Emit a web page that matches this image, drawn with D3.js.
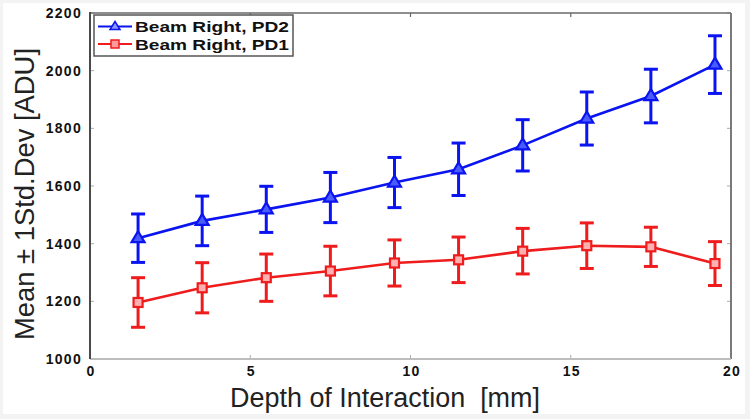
<!DOCTYPE html>
<html><head><meta charset="utf-8">
<script src="https://cdn.jsdelivr.net/npm/d3@7"></script>
<style>
html,body{margin:0;padding:0;background:#f3f3f3;}
svg{display:block;}
</style></head>
<body>
<script>
const depth = [1.5, 3.5, 5.5, 7.5, 9.5, 11.5, 13.5, 15.5, 17.5, 19.5];
const pd2Mean = [1419, 1479, 1519, 1560, 1612, 1658, 1741, 1834, 1912, 2021];
const pd2Std  = [84, 86, 80, 87, 87, 91, 89, 92, 93, 100];
const pd1Mean = [1196, 1247, 1282, 1305, 1333, 1344, 1374, 1393, 1389, 1331];
const pd1Std  = [86, 87, 82, 86, 80, 79, 79, 79, 68, 76];
const xTicks = [0, 5, 10, 15, 20];
const yTicks = [1000, 1200, 1400, 1600, 1800, 2000, 2200];
const seriesNames = ["Beam Right, PD2", "Beam Right, PD1"];
const seriesColors = ["#0a14f0", "#ee1c1c"];

const W = 750, H = 419;
const L = 90, R = 731, T = 13, B = 359;
const svg = d3.select("body").append("svg").attr("width", W).attr("height", H);
svg.append("rect").attr("x", 3).attr("y", 3).attr("width", 742).attr("height", 411).attr("fill", "#ffffff");

const x = d3.scaleLinear().domain([0, 20]).range([L, R]);
const y = d3.scaleLinear().domain([1000, 2200]).range([B, T]);

// inner ticks
const tickCol = "#aaaaaa";
const g = svg.append("g");
yTicks.forEach(v => {
  g.append("line").attr("x1", L).attr("x2", L + 4).attr("y1", y(v)).attr("y2", y(v)).attr("stroke", tickCol).attr("stroke-width", 1);
  g.append("line").attr("x1", R - 4).attr("x2", R).attr("y1", y(v)).attr("y2", y(v)).attr("stroke", tickCol).attr("stroke-width", 1);
});
xTicks.forEach(v => {
  g.append("line").attr("x1", x(v)).attr("x2", x(v)).attr("y1", B).attr("y2", B - 4).attr("stroke", tickCol).attr("stroke-width", 1);
  g.append("line").attr("x1", x(v)).attr("x2", x(v)).attr("y1", T).attr("y2", T + 4).attr("stroke", "#666").attr("stroke-width", 1.2);
});

// frame
svg.append("line").attr("x1", L).attr("x2", R).attr("y1", T).attr("y2", T).attr("stroke", "#6a6a6a").attr("stroke-width", 1.6);
svg.append("line").attr("x1", R).attr("x2", R).attr("y1", T).attr("y2", B).attr("stroke", "#7a7a7a").attr("stroke-width", 2);
svg.append("line").attr("x1", L).attr("x2", R).attr("y1", B).attr("y2", B).attr("stroke", "#bdbdbd").attr("stroke-width", 2);
svg.append("line").attr("x1", L).attr("x2", L).attr("y1", T - 1).attr("y2", B).attr("stroke", "#4a4a4a").attr("stroke-width", 2);

// tick labels
const tickFont = "'Liberation Sans', Arial, sans-serif";
yTicks.forEach(v => {
  svg.append("text").attr("x", L - 8).attr("y", y(v) + 5).attr("text-anchor", "end")
    .attr("font-family", tickFont).attr("font-weight", "bold").attr("font-size", 14)
    .attr("letter-spacing", 1.3).attr("fill", "#111").text(v);
});
xTicks.forEach(v => {
  svg.append("text").attr("x", x(v) + 1).attr("y", B + 17).attr("text-anchor", "middle")
    .attr("font-family", tickFont).attr("font-weight", "bold").attr("font-size", 14)
    .attr("letter-spacing", 1.3).attr("fill", "#111").text(v);
});

// axis titles
svg.append("text").attr("x", 230).attr("y", 407)
  .attr("font-family", tickFont).attr("font-size", 27).attr("fill", "#222")
  .attr("textLength", 310).attr("lengthAdjust", "spacingAndGlyphs")
  .attr("xml:space", "preserve").style("white-space", "pre").text("Depth of Interaction  [mm]");
svg.append("text").attr("transform", "translate(34,340) rotate(-90)")
  .attr("font-family", tickFont).attr("font-size", 28).attr("fill", "#222")
  .attr("textLength", 292).attr("lengthAdjust", "spacingAndGlyphs")
  .text("Mean \u00b1 1Std.Dev [ADU]");

// series
const series = [
  { mean: pd2Mean, std: pd2Std, color: seriesColors[0], marker: "tri" },
  { mean: pd1Mean, std: pd1Std, color: seriesColors[1], marker: "sq" }
];
const line = d3.line().x(d => x(d[0])).y(d => y(d[1]));
const cap = 7;
series.forEach(s => {
  const pts = depth.map((d, i) => [d, s.mean[i], s.std[i]]);
  const sg = svg.append("g");
  sg.append("path").datum(pts).attr("d", line).attr("fill", "none").attr("stroke", s.color).attr("stroke-width", 2.6);
  pts.forEach(p => {
    const cx = x(p[0]), yt = y(p[1] + p[2]), yb = y(p[1] - p[2]);
    sg.append("line").attr("x1", cx).attr("x2", cx).attr("y1", yt).attr("y2", yb).attr("stroke", s.color).attr("stroke-width", 3);
    sg.append("line").attr("x1", cx - cap).attr("x2", cx + cap).attr("y1", yt).attr("y2", yt).attr("stroke", s.color).attr("stroke-width", 3);
    sg.append("line").attr("x1", cx - cap).attr("x2", cx + cap).attr("y1", yb).attr("y2", yb).attr("stroke", s.color).attr("stroke-width", 3);
    const cy = y(p[1]);
    if (s.marker === "tri") {
      sg.append("path").attr("d", `M${cx},${cy - 7}L${cx + 6.5},${cy + 4}L${cx - 6.5},${cy + 4}Z`)
        .attr("fill", "#4a5cff").attr("stroke", s.color).attr("stroke-width", 2.2);
    } else {
      sg.append("rect").attr("x", cx - 4.5).attr("y", cy - 4.5).attr("width", 9).attr("height", 9)
        .attr("fill", "#ffb0b0").attr("stroke", s.color).attr("stroke-width", 2.2);
    }
  });
});

// legend
const lg = svg.append("g");
lg.append("rect").attr("x", 94).attr("y", 15).attr("width", 199).attr("height", 41)
  .attr("fill", "#fff").attr("stroke", "#555").attr("stroke-width", 1.5);
seriesNames.forEach((name, i) => {
  const ly = 26.5 + i * 17.5;
  const s = series[i];
  lg.append("line").attr("x1", 98).attr("x2", 132).attr("y1", ly).attr("y2", ly).attr("stroke", s.color).attr("stroke-width", 2.2);
  if (s.marker === "tri") {
    lg.append("path").attr("d", `M115,${ly - 5}L120,${ly + 3}L110,${ly + 3}Z`).attr("fill", "#8a96ff").attr("stroke", s.color).attr("stroke-width", 1.5);
  } else {
    lg.append("rect").attr("x", 111).attr("y", ly - 4).attr("width", 8).attr("height", 8).attr("fill", "#ff9a9a").attr("stroke", s.color).attr("stroke-width", 1.5);
  }
  lg.append("text").attr("x", 135).attr("y", ly + 5.5).attr("font-family", tickFont).attr("font-weight", "bold")
    .attr("font-size", 15).attr("textLength", 154).attr("lengthAdjust", "spacingAndGlyphs")
    .attr("fill", "#111").text(name);
});
</script>
</body></html>
